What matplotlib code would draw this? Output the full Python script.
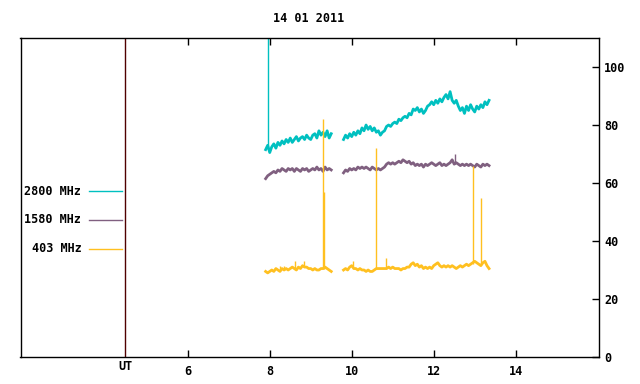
import matplotlib
matplotlib.use("Agg")
import matplotlib.pyplot as plt
import matplotlib.transforms as mtransforms

plt.rcParams['font.family'] = ['DejaVu Sans Mono']
plt.rcParams['font.weight'] = 'bold'
plt.rcParams['font.size'] = 8.5

# time axis (UT hours), two observing segments
t_seg1 = [7.90, 7.95, 8.00, 8.05, 8.10, 8.15, 8.20, 8.25, 8.30, 8.35,
          8.40, 8.45, 8.50, 8.55, 8.60, 8.65, 8.70, 8.75, 8.80, 8.85,
          8.90, 8.95, 9.00, 9.05, 9.10, 9.15, 9.20, 9.25, 9.30, 9.35,
          9.40, 9.45, 9.50]
t_seg2 = [9.80, 9.85, 9.90, 9.95, 10.00, 10.05, 10.10, 10.15, 10.20, 10.25,
          10.30, 10.35, 10.40, 10.45, 10.50, 10.55, 10.60, 10.65, 10.70, 10.75,
          10.80, 10.85, 10.90, 10.95, 11.00, 11.05, 11.10, 11.15, 11.20, 11.25,
          11.30, 11.35, 11.40, 11.45, 11.50, 11.55, 11.60, 11.65, 11.70, 11.75,
          11.80, 11.85, 11.90, 11.95, 12.00, 12.05, 12.10, 12.15, 12.20, 12.25,
          12.30, 12.35, 12.40, 12.45, 12.50, 12.55, 12.60, 12.65, 12.70, 12.75,
          12.80, 12.85, 12.90, 12.95, 13.00, 13.05, 13.10, 13.15, 13.20, 13.25,
          13.30, 13.35]

f2800_seg1 = [71.5, 73.0, 70.5, 72.5, 73.5, 72.0, 74.0, 73.0, 74.5, 73.5,
              75.0, 74.0, 75.5, 74.0, 75.0, 76.0, 74.5, 75.5, 76.0, 75.0,
              76.5, 75.5, 75.0, 76.5, 77.0, 75.5, 78.0, 76.5, 77.5, 76.0,
              78.0, 75.5, 77.0]
f2800_seg2 = [75.0, 76.5, 75.5, 77.0, 76.0, 77.5, 76.5, 78.0, 77.0, 79.0,
              78.0, 80.0, 78.5, 79.5, 78.0, 79.0, 77.5, 78.0, 76.5, 77.5,
              78.0, 79.5, 80.0, 79.5, 80.5, 81.0, 80.5, 82.0, 81.5, 82.5,
              83.0, 82.5, 84.0, 83.5, 85.5, 85.0, 86.0, 84.5, 85.5, 84.0,
              85.0, 86.5, 87.0, 88.0, 87.0, 88.5, 87.5, 89.0, 88.0, 89.5,
              90.5, 89.0, 91.5, 88.5, 87.5, 88.5, 86.5, 85.0, 86.0, 84.0,
              86.5, 85.0, 87.0, 85.5, 84.5, 86.5, 85.5, 87.0, 86.0, 88.0,
              87.0, 88.5]

f1580_seg1 = [61.5, 62.5, 63.0, 63.5, 64.0, 63.5, 64.5, 64.0, 65.0, 64.5,
              64.0, 65.0, 64.5, 65.0, 64.0, 65.0, 64.5, 64.0, 65.0, 64.5,
              65.0, 64.0, 64.5, 65.0, 64.5, 65.5, 64.5, 65.0, 64.0, 65.5,
              64.5, 65.0, 64.5]
f1580_seg2 = [63.5, 64.5, 64.0, 65.0, 64.5, 65.0, 64.5, 65.5, 65.0, 65.5,
              65.0, 65.5, 65.0, 64.5, 65.5, 65.0, 64.5, 65.0, 64.5, 65.0,
              65.5, 66.5, 67.0, 66.5, 67.0, 66.5, 67.0, 67.5, 67.0, 68.0,
              67.5, 67.0, 67.5, 66.5, 67.0, 66.0, 66.5, 66.0, 66.5, 65.5,
              66.5, 66.0, 66.5, 67.0, 66.5, 66.0, 66.5, 67.0, 66.0, 66.5,
              66.0, 66.5, 67.0, 68.0, 66.5, 67.0, 66.5, 66.0, 66.5, 66.0,
              66.5, 66.0, 66.5, 66.0, 65.5, 66.5, 66.0, 65.5, 66.5, 66.0,
              66.5, 66.0]

f403_seg1 = [29.5, 29.0, 29.5, 30.0, 29.5, 30.5, 30.0, 29.5, 30.5, 30.0,
             30.5, 30.0, 30.5, 31.0, 30.5, 30.0, 31.0, 30.5, 31.5, 31.0,
             31.0, 30.5, 30.5, 30.0, 30.5, 30.0, 30.0, 30.5, 30.5, 31.0,
             30.5, 30.0, 29.5]
f403_seg2 = [30.0, 30.5, 30.0, 31.0, 31.5, 30.5, 30.5, 30.0, 30.5, 30.0,
             30.0, 29.5, 30.0, 29.5, 29.5, 30.0, 30.5, 30.5, 30.5, 30.5,
             30.5, 30.5, 31.0, 30.5, 31.0, 30.5, 30.5, 30.5, 30.0, 30.5,
             30.5, 31.0, 31.0, 32.0, 32.5, 31.5, 32.0, 31.0, 31.5, 30.5,
             31.0, 30.5, 31.0, 30.5, 31.5, 32.0, 32.5, 31.5, 31.0, 31.5,
             31.0, 31.5, 31.0, 31.5, 31.0, 30.5, 31.0, 31.5, 31.0, 31.5,
             32.0, 31.5, 32.0, 32.5, 33.0, 32.5, 32.0, 31.5, 32.5, 33.0,
             31.5, 30.5]

# short bursts: time, base level, peak level
spk2800_t = [7.96]
spk2800_lo = [72.0]
spk2800_hi = [115.0]
spk1580_t = [12.52]
spk1580_lo = [66.5]
spk1580_hi = [70.0]
spk403_t = [8.25, 8.35, 8.62, 8.84, 9.30, 9.32, 10.03, 10.60, 10.84, 12.95, 13.15]
spk403_lo = [30.0, 30.0, 30.5, 31.0, 30.5, 30.5, 31.0, 30.5, 30.5, 32.0, 32.0]
spk403_hi = [31.5, 31.5, 33.0, 33.2, 82.0, 57.0, 33.2, 72.0, 34.0, 66.0, 55.0]

labels = ['2800 MHz', '1580 MHz', '403 MHz']
colors = ['#00c0c0', '#806080', '#ffc020']

fig = plt.figure(figsize=(6.4, 3.84), dpi=100)
ax = fig.add_axes([20.5 / 640, 27 / 384, 578 / 640, 319 / 384])

series = [
    (f2800_seg1, f2800_seg2, spk2800_t, spk2800_lo, spk2800_hi),
    (f1580_seg1, f1580_seg2, spk1580_t, spk1580_lo, spk1580_hi),
    (f403_seg1, f403_seg2, spk403_t, spk403_lo, spk403_hi),
]
for (s1, s2, st, slo, shi), c in zip(series, colors):
    ax.plot(t_seg1, s1, color=c, lw=2.0)
    ax.plot(t_seg2, s2, color=c, lw=2.0)
    ax.vlines(st, slo, shi, color=c, lw=1.0)

ax.axvline(4.47, color='#500000', lw=1.0)

ax.set_xlim(1.92, 16.02)
ax.set_ylim(0, 110)
ax.set_xticks([6, 8, 10, 12, 14])
ax.tick_params(axis='x', direction='in', top=True, length=5, pad=6, width=1)
ax.yaxis.tick_right()
ax.set_yticks([0, 20, 40, 60, 80, 100])
ax.tick_params(axis='y', direction='in', left=False, right=True, length=5, pad=4, width=1)
for sp in ax.spines.values():
    sp.set_linewidth(1.0)

trans = mtransforms.blended_transform_factory(ax.transData, ax.transAxes)
ax.text(4.47, -0.03, 'UT', transform=trans, ha='center', va='center')

# key on the left
key_y = [0.519, 0.431, 0.340]
for lab, c, ky in zip(labels, colors, key_y):
    ax.text(0.1055, ky, lab, transform=ax.transAxes, ha='right', va='center')
    ax.plot([0.118, 0.175], [ky, ky], color=c, lw=1.0, transform=ax.transAxes)

fig.text(309 / 640, 1 - 19 / 384, '14 01 2011', ha='center', va='center')

fig.savefig('out.png', dpi=100)
